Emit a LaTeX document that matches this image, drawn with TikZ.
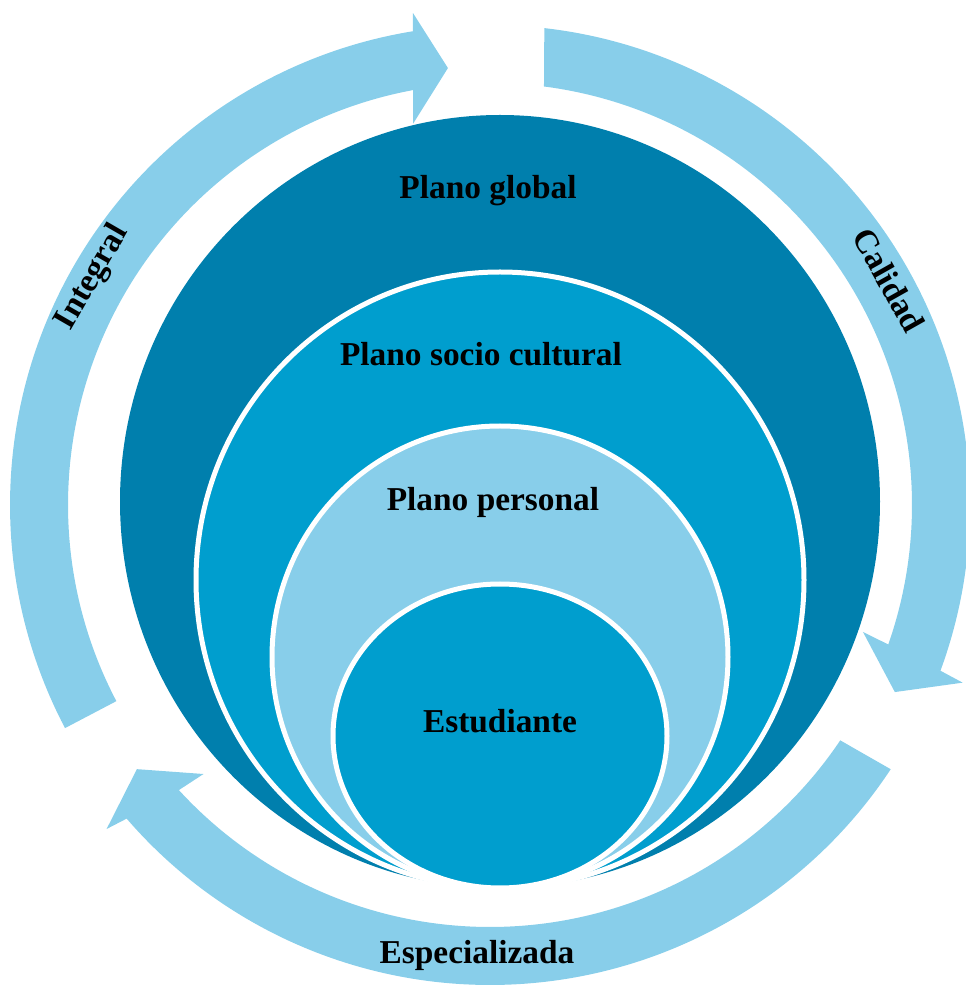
\documentclass[tikz,border=0pt]{standalone}
\usepackage{fontspec}
\setmainfont{Liberation Serif}
\usetikzlibrary{calc}
\definecolor{darkc}{HTML}{007FAD}
\definecolor{midc}{HTML}{009ECE}
\definecolor{lightc}{HTML}{88CEEA}
\tikzset{
  ringarrow/.style={fill=lightc},
  disc/.style={draw=white,line width=0.1cm},
  lbl/.style={font=\fontsize{19}{22}\selectfont\bfseries,inner sep=0pt,text=black}
}
\begin{document}
\begin{tikzpicture}[x=0.02cm,y=0.02cm]
\useasboundingbox (0,0) rectangle (965,985);
\coordinate (C) at (490,480);
% nested discs, all touching at the bottom
\fill[darkc] (500,483.5) ellipse[x radius=380,y radius=386.5];
\filldraw[disc,fill=midc] (500,405) ellipse[x radius=304,y radius=308];
\filldraw[disc,fill=lightc] (500,328) ellipse[x radius=228,y radius=231];
\filldraw[disc,fill=midc] (500,249) ellipse[x radius=167,y radius=152];
% ring arrows
\begin{scope}[shift={(C)}]
\fill[ringarrow] (207.7:480) arc[start angle=207.7,end angle=99.25,radius=480]
  -- (98.9:498) -- (95.5:439) -- (101.4:389) -- (100.5:422)
  arc[start angle=100.5,end angle=207.7,radius=422] -- cycle;
\fill[ringarrow] (83.5:480) arc[start angle=83.5,end angle=-20.2,radius=480]
  -- (-20.6:505) -- (-24.8:446) -- (-18.8:394) -- (-19.3:422)
  arc[start angle=-19.3,end angle=82.65,radius=422] -- cycle;
\fill[ringarrow] (-33.4:480) arc[start angle=-33.4,end angle=-139.2,radius=480]
  -- (-139.8:502) -- (-143.2:441) -- (-136.8:393) -- (-137.5:422)
  arc[start angle=-137.5,end angle=-33.9,radius=422] -- cycle;
\node[lbl,rotate=60] (integral) at (150.2:458) {Integral};
\node[lbl,rotate=-60.6] (calidad) at (29.4:458) {Calidad};
\end{scope}
% labels
\node[lbl,anchor=base] (global) at (488,786) {Plano global};
\node[lbl,anchor=base] (socio) at (481,619) {Plano socio cultural};
\node[lbl,anchor=base] (personal) at (493,474) {Plano personal};
\node[lbl,anchor=base] (estudiante) at (500,252) {Estudiante};
\node[lbl,anchor=base] (espec) at (477,22) {Especializada};
\end{tikzpicture}
\end{document}
